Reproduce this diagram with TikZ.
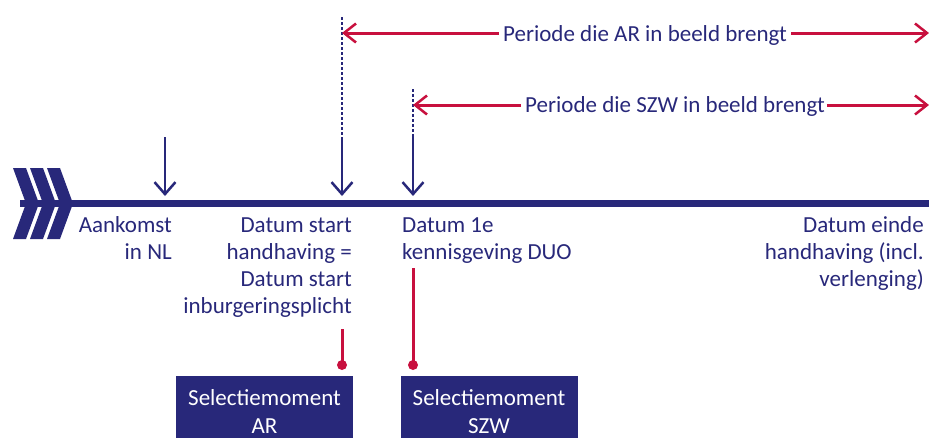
\documentclass[tikz,border=0pt]{standalone}
\usepackage{fontspec}
\setmainfont{Carlito}
\usetikzlibrary{arrows.meta}
\definecolor{navy}{RGB}{40,40,122}
\definecolor{crim}{RGB}{200,16,62}
\tikzset{
  lbl/.style={inner sep=0pt, text=navy, font=\fontsize{23}{27}\selectfont},
  periodlbl/.style={inner sep=0pt, text=navy, font=\fontsize{23}{27}\selectfont},
  downarrow/.style={navy, line width=2.5pt, -{Straight Barb[length=12pt,width=21pt,line width=2.5pt]}},
  dotline/.style={navy, line width=2.5pt, dash pattern=on 2.5pt off 2.5pt},
  periodarrow/.style={crim, line width=3pt, -{Straight Barb[length=12pt,width=19pt,line width=2.5pt]}},
  redline/.style={crim, line width=3pt},
  reddot/.style={circle, fill=crim, inner sep=0pt, minimum size=10pt},
  selbox/.style={fill=navy, text=white, inner xsep=0pt, inner ysep=13pt, minimum width=177pt, text width=177pt, align=center, anchor=north, font=\fontsize{23}{28}\selectfont},
  chev/.style={fill=navy, draw=none}
}
\begin{document}
\begin{tikzpicture}[x=1pt, y=-1pt]
\useasboundingbox (0,0) rectangle (929,437);
\clip (0,0) rectangle (929,437);
% timeline
\coordinate (tlstart) at (20,203.5);
\coordinate (tlend) at (935,203.5);
\draw[navy, line width=7pt] (tlstart) -- (tlend);
\foreach \x in {13,30,47}{
  \fill[chev] (\x,168) -- (\x+13,168) -- (\x+26,203.5) -- (\x+13,239) -- (\x,239) -- (\x+13,203.5) -- cycle;
}
% down arrows
\coordinate (aTop) at (165,137);
\coordinate (aTip) at (165,196);
\coordinate (bDot) at (342,17);
\coordinate (bTop) at (342,137);
\coordinate (bTip) at (342,196);
\coordinate (cDot) at (413,89);
\coordinate (cTop) at (413,137);
\coordinate (cTip) at (413,196);
\draw[downarrow] (aTop) -- (aTip);
\draw[downarrow] (bTop) -- (bTip);
\draw[downarrow] (cTop) -- (cTip);
\draw[dotline] (bDot) -- (bTop);
\draw[dotline] (cDot) -- (cTop);
% period labels
\node[periodlbl, anchor=base] (pAR) at (645,41) {Periode die AR in beeld brengt};
\node[periodlbl, anchor=base] (pSZW) at (675,112) {Periode die SZW in beeld brengt};
\coordinate (yAR) at (0,33);
\coordinate (ySZW) at (0,105);
\coordinate (endAR) at (929,33);
\coordinate (endSZW) at (929,105);
\draw[periodarrow] ([xshift=-4pt]pAR.west |- yAR) -- (bDot |- yAR);
\draw[periodarrow] ([xshift=4pt]pAR.east |- yAR) -- (endAR);
\draw[periodarrow] ([xshift=-4pt]pSZW.west |- ySZW) -- (cDot |- ySZW);
\draw[periodarrow] ([xshift=2pt]pSZW.east |- ySZW) -- (endSZW);
% labels under timeline (base anchor = baseline of last line)
\node[lbl, anchor=base east, align=right] (lA) at (172,259) {Aankomst\\in NL};
\node[lbl, anchor=base east, align=right] (lB) at (352,313) {Datum start\\handhaving =\\Datum start\\inburgeringsplicht};
\node[lbl, anchor=base west, align=left] (lC) at (402,259) {Datum 1e\\kennisgeving DUO};
\node[lbl, anchor=base east, align=right] (lD) at (924,286) {Datum einde\\handhaving (incl.\\verlenging)};
% selection boxes
\node[reddot] (dAR) at (342,365) {};
\node[reddot] (dSZW) at (413,365) {};
\coordinate (rAR) at (342,329);
\coordinate (rSZW) at (413,268);
\draw[redline] (rAR) -- (dAR.center);
\draw[redline] (rSZW) -- (dSZW.center);
\node[selbox] (sAR) at (264.5,376) {Selectiemoment\\AR};
\node[selbox] (sSZW) at (489,376) {Selectiemoment\\SZW};
\end{tikzpicture}
\end{document}
